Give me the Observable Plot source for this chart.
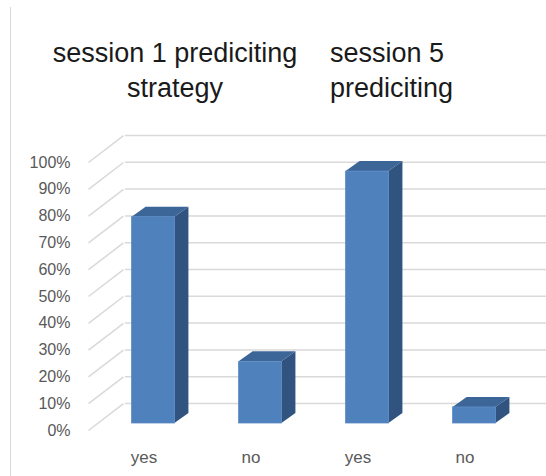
<!DOCTYPE html>
<html>
<head>
<meta charset="utf-8">
<script src="https://cdn.jsdelivr.net/npm/d3@7"></script>
<script src="https://cdn.jsdelivr.net/npm/@observablehq/plot@0.6"></script>
<style>
  html, body { margin: 0; padding: 0; background: #fff; overflow: hidden; width: 546px; height: 476px; }
  #wrap { position: relative; width: 546px; height: 476px; overflow: hidden; font-family: "Liberation Sans", Arial, sans-serif; }
  #border { position: absolute; left: 10px; top: 7px; bottom: 0; border-left: 1.5px solid #d9d9d9; }
  .t { position: absolute; font-size: 27px; color: #1a1a1a; white-space: nowrap; line-height: 35px; }
  #chart { position: absolute; left: 0; top: 0; }
  #chart svg { max-width: none !important; overflow: visible; }
</style>
</head>
<body>
<div id="wrap">
  <div id="border"></div>
  <div class="t" id="t1" style="left:40px; top:36px; width:270px; text-align:center;">session 1 prediciting<br>strategy</div>
  <div class="t" id="t2" style="left:330px; top:36px;">session 5<br>prediciting</div>
  <div id="chart"></div>
</div>
<script>
// Data
const categories = ["yes", "no", "yes", "no"];
const values = [0.77, 0.23, 0.94, 0.06];
const yTicks = [0, 0.1, 0.2, 0.3, 0.4, 0.5, 0.6, 0.7, 0.8, 0.9, 1.0];

// Styling constants (3D look)
const BAR_W = 0.40;          // bar width in category units
const WALL_DX = 35, WALL_DY = -27;   // back wall offset (px)
const BAR_DX = 9.5, BAR_DY = -7;     // bar front face offset from front plane (px)
const SIDE_X = 0.131, SIDE_Y = 0.0373; // bar depth in data units
const WALL_X = 0.327, WALL_Y = 0.1;    // wall depth in data units (for diagonals)

const bars = categories.map((c, i) => ({i, c, v: values[i]}));

const sidePts = bars.flatMap(b => [
  {i: b.i, x: b.i + BAR_W / 2, y1: 0, y2: b.v},
  {i: b.i, x: b.i + BAR_W / 2 + SIDE_X, y1: SIDE_Y, y2: b.v + SIDE_Y}
]);
const topPts = bars.flatMap(b => [
  {i: b.i, y: b.v, x1: b.i - BAR_W / 2, x2: b.i + BAR_W / 2},
  {i: b.i, y: b.v + SIDE_Y, x1: b.i - BAR_W / 2 + SIDE_X, x2: b.i + BAR_W / 2 + SIDE_X}
]);

const grid = "#d9d9d9";

const chart = Plot.plot({
  width: 546,
  height: 476,
  marginLeft: 90,
  marginRight: 28,
  marginTop: 162,
  marginBottom: 46,
  style: {fontFamily: "Liberation Sans, Arial, sans-serif", background: "transparent", overflow: "visible"},
  x: {type: "linear", domain: [-0.5, 3.5], axis: null},
  y: {domain: [0, 1], axis: null},
  marks: [
    // back wall gridlines
    Plot.ruleY(yTicks, {y: d => d, x1: -0.5, x2: 4.2, dx: WALL_DX, dy: WALL_DY, stroke: grid, strokeWidth: 1.5}),
    // side-wall diagonals
    Plot.link(yTicks, {x1: -0.5, y1: d => d, x2: -0.5 + WALL_X, y2: d => d + WALL_Y, dx: -2, stroke: grid, strokeWidth: 1.5}),
    // bar side faces
    Plot.areaY(sidePts, {x: "x", y1: "y1", y2: "y2", z: "i", fill: "#30537f", dx: BAR_DX, dy: BAR_DY}),
    // bar top faces
    Plot.areaX(topPts, {y: "y", x1: "x1", x2: "x2", z: "i", fill: "#3b6697", dx: BAR_DX, dy: BAR_DY}),
    // bar front faces
    Plot.rectY(bars, {x1: d => d.i - BAR_W / 2, x2: d => d.i + BAR_W / 2, y1: 0, y2: "v", fill: "#4f81bd", stroke: "#5b8ac3", strokeWidth: 0.8, dx: BAR_DX, dy: BAR_DY}),
    // y tick labels
    Plot.axisY(yTicks, {anchor: "left", tickSize: 0, tickPadding: 0, dx: -20, tickFormat: d => Math.round(d * 100) + "%", fontSize: 16, fill: "#595959", label: null}),
    // category labels
    Plot.text(bars, {x: "i", y: 0, text: "c", dy: 27, fontSize: 17, fill: "#595959"})
  ]
});
document.getElementById("chart").appendChild(chart);
</script>
</body>
</html>
